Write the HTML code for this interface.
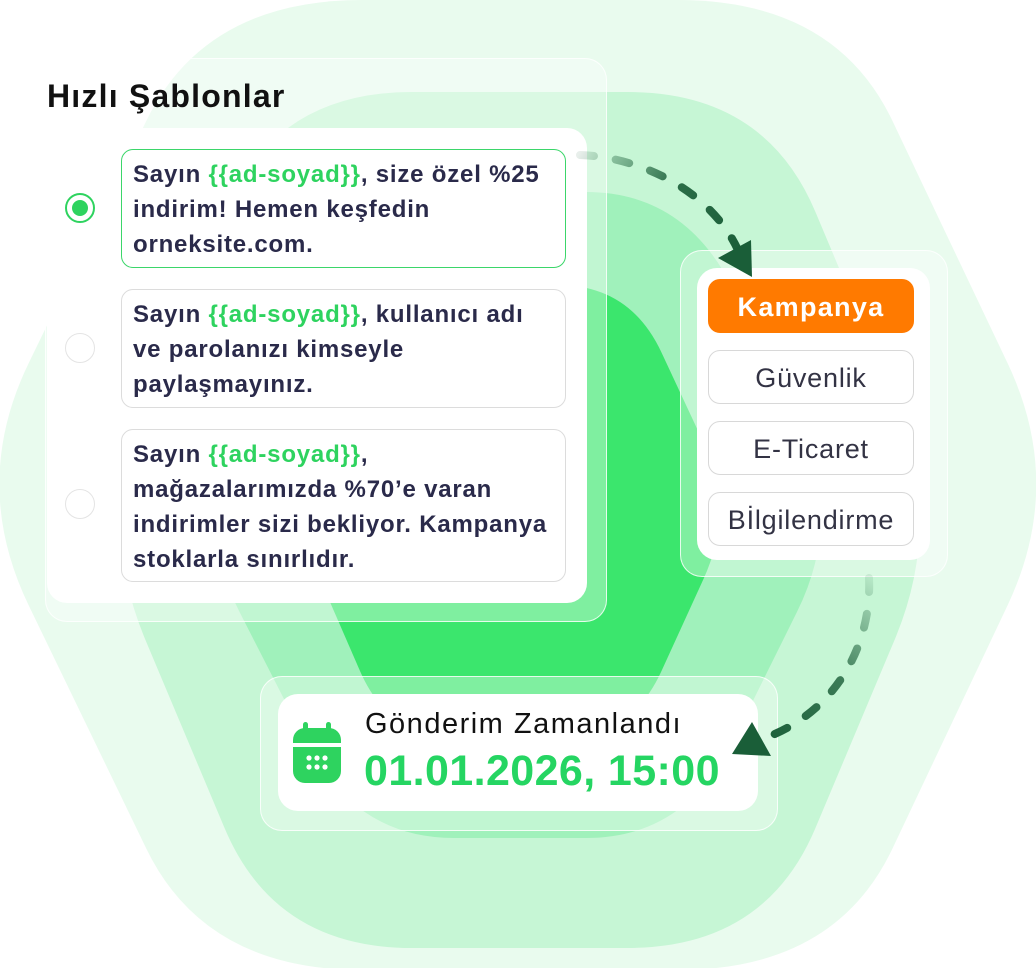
<!DOCTYPE html>
<html><head><meta charset="utf-8"><style>
html,body{margin:0;padding:0;background:#fff}
body{width:1036px;height:968px;position:relative;overflow:hidden;font-family:"Liberation Sans",sans-serif}
.abs{position:absolute}
.glass{position:absolute;background:rgba(255,255,255,0.35);border:1px solid rgba(255,255,255,0.8);border-radius:22px}
.white{position:absolute;background:#fff;border-radius:20px}
.card{position:absolute;left:121px;width:445px;border:1px solid #dcdcdc;border-radius:12px;background:#fff;box-sizing:border-box;padding:7px 0 0 11px;font-weight:bold;font-size:24px;line-height:35px;color:#2a2a4a;letter-spacing:0.8px;white-space:nowrap}
.g{color:#2ed35f}
.radio{position:absolute;left:65px;width:30px;height:30px;border-radius:50%;border:1px solid #e4e4e4;box-sizing:border-box;background:#fff}
.btn{position:absolute;left:708px;width:206px;height:54px;border-radius:12px;border:1px solid #d8d8d8;box-sizing:border-box;text-align:center;line-height:54px;font-size:27px;letter-spacing:0.8px;color:#333344;background:#fff}
</style></head><body>
<svg class="abs" style="left:0;top:0" width="1036" height="968">
<path id="h1" fill="#e9fbee"/>
<path id="h2" fill="#c6f6d5"/>
<path id="h3" fill="#a0f1bb"/>
<path id="h4" fill="#3be66d"/>
</svg>
<script>
function rh(v,t){var n=v.length,d="";for(var i=0;i<n;i++){var p=v[(i+n-1)%n],c=v[i],q=v[(i+1)%n];
var a=[c[0]+(p[0]-c[0])*t,c[1]+(p[1]-c[1])*t],b=[c[0]+(q[0]-c[0])*t,c[1]+(q[1]-c[1])*t];
d+=(i==0?"M":"L")+a[0]+" "+a[1]+" Q"+c[0]+" "+c[1]+" "+b[0]+" "+b[1]+" ";}return d+"Z";}
document.getElementById("h1").setAttribute("d",rh([[205,0],[835,0],[1065,484],[835,970],[205,970],[-30,484]],0.25));
document.getElementById("h2").setAttribute("d",rh([[275,92],[765,92],[945,520],[765,948],[275,948],[95,520]],0.28));
document.getElementById("h3").setAttribute("d",rh([[355,192],[685,192],[845,515],[685,838],[355,838],[190,515]],0.3));
document.getElementById("h4").setAttribute("d",rh([[390,285],[630,285],[735,510],[630,740],[390,740],[290,510]],0.3));
</script>
<div class="glass" style="left:45px;top:58px;width:560px;height:562px"></div>
<div class="abs" style="left:47px;top:78px;font-size:32px;font-weight:bold;color:#111;letter-spacing:1.2px">Hızlı Şablonlar</div>
<div class="white" style="left:47px;top:128px;width:540px;height:475px"></div>
<div class="radio" style="top:193px;border:2px solid #2ed35f"><div style="position:absolute;left:5px;top:5px;width:16px;height:16px;border-radius:50%;background:#2ed35f"></div></div>
<div class="radio" style="top:333px"></div>
<div class="radio" style="top:489px"></div>
<div class="card" style="top:149px;height:119px;border-color:#3bd66a">Sayın <span class="g">{{ad-soyad}}</span>, size özel %25<br>indirim! Hemen keşfedin<br>orneksite.com.</div>
<div class="card" style="top:289px;height:119px">Sayın <span class="g">{{ad-soyad}}</span>, kullanıcı adı<br>ve parolanızı kimseyle<br>paylaşmayınız.</div>
<div class="card" style="top:429px;height:153px">Sayın <span class="g">{{ad-soyad}}</span>,<br>mağazalarımızda %70’e varan<br>indirimler sizi bekliyor. Kampanya<br>stoklarla sınırlıdır.</div>

<div class="glass" style="left:680px;top:250px;width:266px;height:325px"></div>
<div class="white" style="left:697px;top:268px;width:233px;height:292px"></div>
<div class="btn" style="top:279px;background:#ff7a00;border-color:#ff7a00;color:#fff;font-weight:bold;letter-spacing:1.3px">Kampanya</div>
<div class="btn" style="top:350px">Güvenlik</div>
<div class="btn" style="top:421px">E-Ticaret</div>
<div class="btn" style="top:492px">Bİlgilendirme</div>

<div class="glass" style="left:260px;top:676px;width:516px;height:153px"></div>
<div class="white" style="left:278px;top:694px;width:480px;height:117px"></div>
<svg class="abs" style="left:290px;top:720px" width="58" height="66" viewBox="0 0 58 66">
<rect x="13" y="2" width="5" height="12" rx="2.5" fill="#2ed35f"/><rect x="36" y="2" width="5" height="12" rx="2.5" fill="#2ed35f"/>
<path d="M3 20 a12 12 0 0 1 12 -12 h24 a12 12 0 0 1 12 12 v3 h-48z" fill="#2ed35f"/>
<path d="M3 27 h48 v24 a12 12 0 0 1 -12 12 h-24 a12 12 0 0 1 -12 -12z" fill="#2ed35f"/>
<g fill="#fff"><circle cx="19" cy="38" r="2.6"/><circle cx="27" cy="38" r="2.6"/><circle cx="35" cy="38" r="2.6"/><circle cx="19" cy="47" r="2.6"/><circle cx="27" cy="47" r="2.6"/><circle cx="35" cy="47" r="2.6"/></g>
</svg>
<div class="abs" style="left:365px;top:708px;font-size:29px;color:#111;letter-spacing:1.5px">Gönderim Zamanlandı</div>
<div class="abs" style="left:364px;top:747px;font-size:43px;font-weight:bold;color:#25d562;letter-spacing:0.4px">01.01.2026, 15:00</div>

<svg class="abs" style="left:0;top:0" width="1036" height="968">
<defs>
<linearGradient id="a1" x1="578" y1="155" x2="740" y2="260" gradientUnits="userSpaceOnUse"><stop offset="0" stop-color="#1a5e38" stop-opacity="0.1"/><stop offset="0.5" stop-color="#1a5e38" stop-opacity="0.9"/><stop offset="1" stop-color="#1a5e38"/></linearGradient>
<linearGradient id="a2" x1="869" y1="578" x2="760" y2="740" gradientUnits="userSpaceOnUse"><stop offset="0" stop-color="#1a5e38" stop-opacity="0.1"/><stop offset="0.5" stop-color="#1a5e38" stop-opacity="0.8"/><stop offset="1" stop-color="#1a5e38"/></linearGradient>
</defs>
<path d="M580 155 C640 157 710 190 738 250" fill="none" stroke="url(#a1)" stroke-width="8" stroke-linecap="round" stroke-dasharray="14 22"/>
<polygon points="752,277 718,258 751,240" fill="#1a5e38"/>
<path d="M869 578 C872 640 840 710 765 738" fill="none" stroke="url(#a2)" stroke-width="8" stroke-linecap="round" stroke-dasharray="14 22"/>
<polygon points="732,754 752,722 771,756" fill="#1a5e38"/>
</svg>
</body></html>
